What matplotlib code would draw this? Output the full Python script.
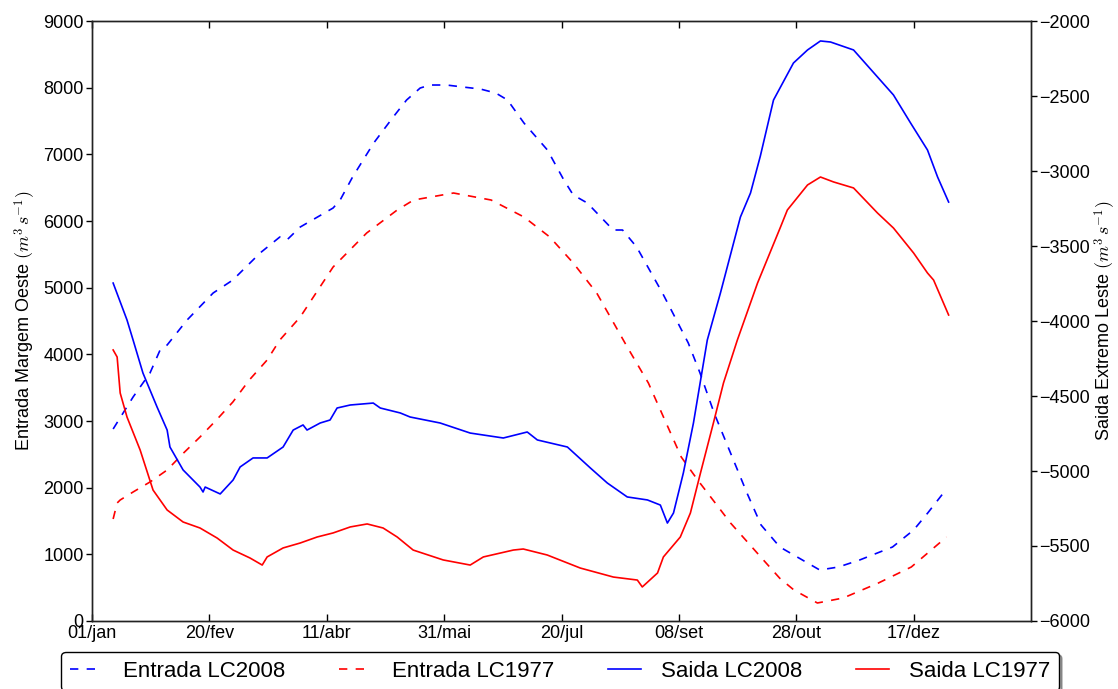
import matplotlib
matplotlib.use('Agg')
import matplotlib.pyplot as plt
import numpy as np

plt.rcParams['font.family'] = ['Liberation Sans', 'DejaVu Sans']
plt.rcParams['mathtext.fontset'] = 'cm'

# dia do ano / vazao (m3/s)
dias_ent08 = [9, 17.5, 24.7, 29, 32, 40.5, 51.6, 60, 63, 71.6, 80, 83, 88.7, 102.7, 105.7,
              111, 120, 128.3, 134, 139.8, 144, 151, 158, 165.4, 172, 177, 184, 194, 201,
              205, 211, 222, 226, 232, 243, 254, 259, 265, 279, 285, 293, 310, 318, 327,
              341, 350, 356, 363]
ent08 = [2880, 3360, 3720, 4065, 4140, 4515, 4920, 5115, 5220, 5520, 5760, 5715, 5910, 6195,
         6315, 6660, 7170, 7560, 7815, 7995, 8040, 8040, 8010, 7980, 7920, 7815, 7470, 7065,
         6615, 6390, 6270, 5865, 5865, 5610, 4920, 4170, 3720, 3120, 1920, 1440, 1110, 765,
         810, 915, 1110, 1365, 1620, 1935]

dias_ent77 = [9, 10.7, 12, 17.5, 24.7, 32, 39, 46, 53, 60, 67, 74.6, 80, 88.7, 102.7, 117,
              130, 137, 154, 170, 184, 195, 205, 215, 228, 237, 251, 258, 272, 286, 293, 299,
              309, 320, 335, 349, 356, 364]
ent77 = [1530, 1770, 1815, 1935, 2085, 2265, 2520, 2760, 3015, 3285, 3615, 3915, 4215, 4560,
         5310, 5820, 6165, 6315, 6420, 6315, 6060, 5760, 5370, 4920, 4110, 3570, 2460, 2115,
         1470, 915, 640, 465, 270, 345, 570, 810, 1020, 1260]

dias_sai08 = [9, 14.9, 17.5, 21.7, 27.7, 32, 33.2, 38.8, 46, 47.3, 48.2, 54.6, 60.1, 63.1,
              68.6, 74.6, 81.4, 85.7, 89.9, 91.6, 97.2, 101.4, 104.4, 110, 119.8, 122.8,
              131.3, 135.5, 148.3, 161.1, 175.2, 185.4, 189.7, 202.5, 212.3, 219.5, 228,
              236.6, 242.1, 245.1, 247.7, 251.9, 256.2, 262.1, 267.7, 276.2, 280.5, 284.7,
              290.3, 298.8, 304.8, 310.3, 314.6, 324.4, 334.6, 341.4, 348.7, 355.9, 360.2, 364.9]
sai08 = [-3747, -3993, -4127, -4347, -4573, -4727, -4840, -4993, -5107, -5140, -5107, -5153,
         -5060, -4973, -4913, -4913, -4840, -4727, -4693, -4727, -4680, -4660, -4580, -4560,
         -4547, -4580, -4613, -4640, -4680, -4747, -4780, -4740, -4793, -4840, -4980, -5080,
         -5173, -5193, -5227, -5347, -5280, -5013, -4680, -4127, -3813, -3307, -3147, -2900,
         -2527, -2280, -2193, -2133, -2140, -2193, -2373, -2493, -2680, -2860, -3040, -3207]

dias_sai77 = [9, 10.7, 12, 14.9, 20.5, 26, 32, 38.8, 46, 53.3, 60.1, 67.3, 72.5, 74.6, 81.4,
              88.7, 95.9, 102.7, 110, 117.2, 124, 130, 136.8, 149.6, 161.1, 166.7, 179.5,
              183.7, 193.9, 208, 222.1, 232.3, 234.4, 240.9, 243.4, 250.6, 254.9, 259.2,
              264.7, 269, 274.9, 283.5, 293.3, 296.2, 304.8, 310.3, 315.9, 324.4, 334.6,
              341.4, 350, 355.9, 358.5, 364.9]
sai77 = [-4193, -4240, -4480, -4640, -4860, -5127, -5260, -5340, -5380, -5447, -5527, -5580,
         -5627, -5573, -5513, -5480, -5440, -5413, -5373, -5353, -5380, -5440, -5527, -5593,
         -5627, -5573, -5527, -5520, -5560, -5647, -5707, -5727, -5773, -5680, -5573, -5440,
         -5280, -5013, -4680, -4413, -4127, -3747, -3373, -3260, -3093, -3040, -3073, -3113,
         -3280, -3380, -3547, -3680, -3727, -3960]

tick_dias = [0, 50, 100, 150, 200, 250, 300, 350]
tick_nomes = ['01/jan', '20/fev', '11/abr', '31/mai', '20/jul', '08/set', '28/out', '17/dez']

fig = plt.figure(figsize=(11.18, 6.89), dpi=100)
ax1 = fig.add_subplot(111)
fig.subplots_adjust(left=0.0823, right=0.9222, top=0.9695, bottom=0.0987)
ax2 = ax1.twinx()

tracejado = (0, (5, 5))
l1, = ax1.plot(dias_ent08, ent08, color='b', lw=1.2, ls=tracejado, label='Entrada LC2008')
l2, = ax1.plot(dias_ent77, ent77, color='r', lw=1.2, ls=tracejado, label='Entrada LC1977')
l3, = ax2.plot(dias_sai08, sai08, color='b', lw=1.2, label='Saida LC2008')
l4, = ax2.plot(dias_sai77, sai77, color='r', lw=1.2, label='Saida LC1977')

ax1.set_xlim(0, 400)
ax1.set_ylim(0, 9000)
ax2.set_ylim(-6000, -2000)
ax1.set_xticks(tick_dias)
ax1.set_xticklabels(tick_nomes)
ax1.set_yticks(np.arange(0, 9001, 1000))
ax2.set_yticks(np.arange(-6000, -1999, 500))

ax1.tick_params(axis='x', direction='in', top=True, length=5, width=1, pad=3, labelsize=13)
ax1.tick_params(axis='y', direction='out', length=4, width=1, pad=2, labelsize=13)
ax2.tick_params(axis='y', direction='out', length=4, width=1, pad=2, labelsize=13)
for ax in (ax1, ax2):
    for s in ax.spines.values():
        s.set_color('#222222')
        s.set_linewidth(1.0)

ax1.set_ylabel(r'Entrada Margem Oeste $(m^3\, s^{-1})$', fontsize=13, labelpad=4)
ax2.set_ylabel(r'Saida Extremo Leste $(m^3\, s^{-1})$', fontsize=13, labelpad=2)

leg = fig.legend([l1, l2, l3, l4], [l.get_label() for l in (l1, l2, l3, l4)],
                 loc='upper center', bbox_to_anchor=(0.501, 0.070), ncol=4, fontsize=16,
                 handlelength=1.5, handletextpad=0.9, columnspacing=2.4,
                 fancybox=True, shadow=True, framealpha=1, edgecolor='black')
leg.get_frame().set_linewidth(1.0)

fig.savefig('out.png', dpi=100)
